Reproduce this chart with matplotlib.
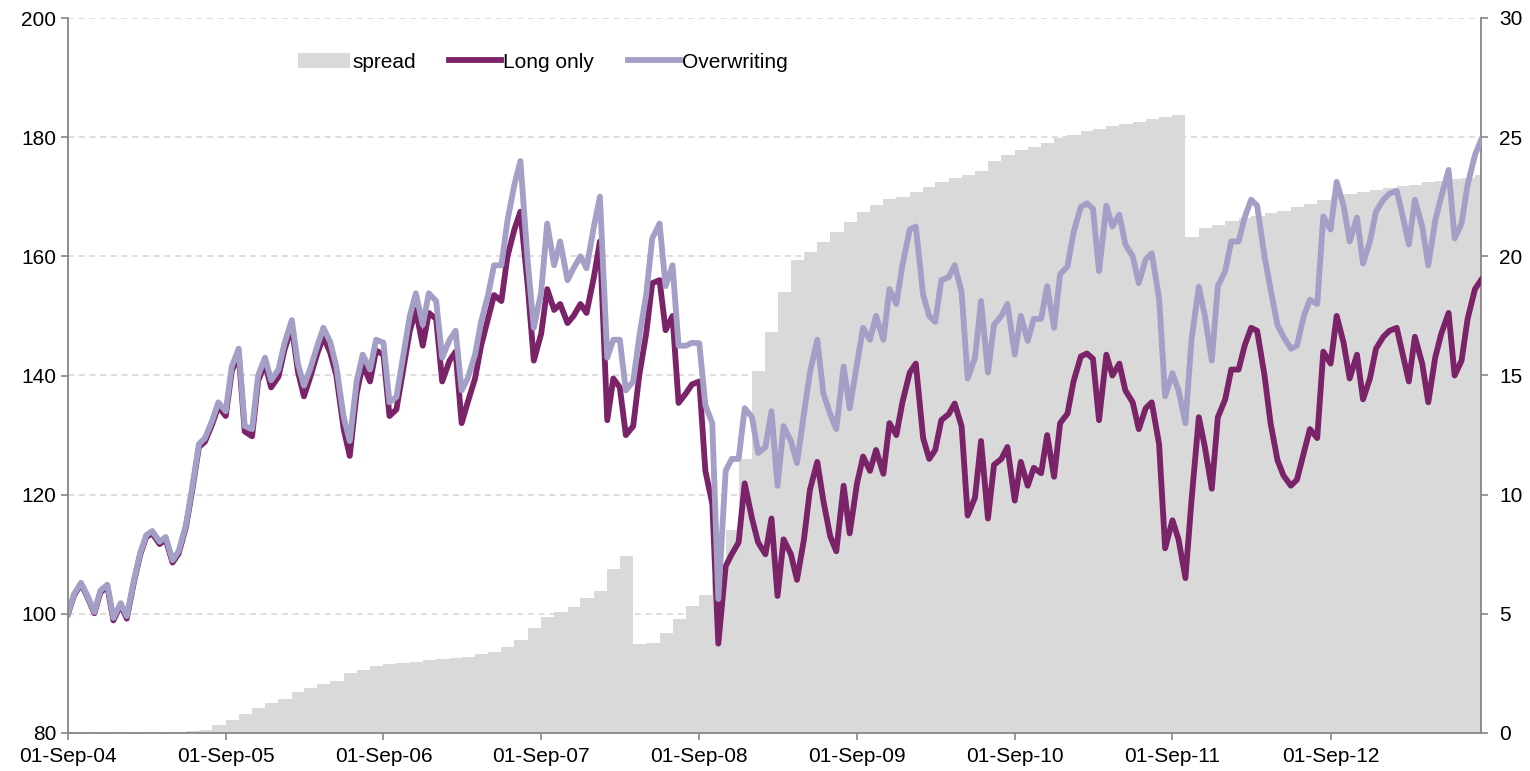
import numpy as np
import pandas as pd
import matplotlib
matplotlib.use("Agg")
import matplotlib.pyplot as plt
import matplotlib.dates as mdates

plt.rcParams['font.family'] = ['Liberation Sans', 'DejaVu Sans']

# semi-monthly observations (1st and 15th), Sep-04 .. Aug-13
dates = pd.date_range("2004-09-01", periods=216, freq="SMS")

long_only = [
    100.0, 103.1, 105.0, 103.0, 100.1, 103.6, 104.6, 98.9, 101.5, 99.2, 105.5, 109.9,
    112.9, 113.5, 111.7, 112.5, 108.6, 110.1, 114.6, 120.5, 128.0, 128.9, 131.9, 134.8,
    133.2, 140.7, 143.6, 130.6, 129.8, 139.1, 142.0, 138.0, 139.8, 144.3, 148.2, 140.7,
    136.5, 139.6, 143.7, 146.5, 143.8, 140.0, 131.0, 126.5, 137.0, 141.8, 139.0, 144.2,
    143.5, 133.2, 134.3, 140.3, 147.5, 151.0, 145.0, 150.5, 149.5, 139.0, 142.5, 144.0,
    132.0, 135.5, 139.5, 145.0, 149.5, 153.5, 152.5, 160.0, 164.5, 167.5, 155.0, 142.5,
    147.0, 154.5, 151.0, 152.0, 148.8, 150.0, 152.0, 150.5, 156.5, 162.5, 132.5, 139.5,
    138.0, 130.0, 131.5, 140.0, 147.0, 155.5, 156.0, 147.6, 150.0, 135.4, 137.0, 138.5,
    139.0, 124.0, 118.5, 95.0, 108.0, 110.0, 112.0, 121.9, 116.0, 112.0, 110.0, 116.0,
    103.0, 112.5, 110.0, 105.7, 112.4, 120.8, 125.5, 119.0, 113.0, 110.5, 121.5, 113.5,
    121.9, 126.4, 124.0, 127.5, 123.5, 132.0, 130.0, 135.5, 140.5, 142.0, 129.5, 126.0,
    127.5, 132.5, 133.5, 135.3, 131.5, 116.5, 119.5, 129.0, 116.0, 125.0, 126.0, 128.0,
    119.0, 125.5, 121.5, 124.5, 123.6, 130.0, 123.0, 132.0, 133.6, 139.0, 143.2, 143.7,
    142.8, 132.5, 143.5, 140.0, 142.0, 137.5, 135.5, 131.0, 134.5, 135.5, 128.5, 111.0,
    115.7, 112.5, 106.0, 119.0, 133.0, 128.0, 121.0, 133.0, 136.0, 141.0, 141.0, 145.0,
    148.0, 147.5, 140.0, 132.0, 125.8, 123.2, 121.5, 122.5, 127.0, 131.0, 129.5, 144.0,
    142.0, 150.0, 145.5, 139.5, 143.5, 136.0, 139.5, 144.5, 146.5, 147.5, 148.0, 143.5,
    139.0, 146.5, 142.0, 135.5, 143.0, 147.0, 150.5, 140.0, 142.5, 149.5, 154.5, 156.0,
]

overwriting = [
    100.1, 103.3, 105.2, 103.2, 100.3, 103.9, 104.9, 99.3, 101.8, 99.6, 105.8, 110.2,
    113.2, 113.9, 112.1, 112.9, 109.0, 110.5, 115.0, 121.0, 128.5, 129.5, 132.5, 135.5,
    134.0, 141.5, 144.5, 131.5, 131.0, 140.0, 143.0, 139.2, 141.0, 145.4, 149.3, 142.0,
    138.3, 141.0, 145.0, 148.0, 145.6, 141.5, 133.0, 129.0, 139.0, 143.5, 141.0, 146.0,
    145.5, 135.5, 136.4, 142.5, 150.0, 153.8, 148.5, 153.8, 152.5, 143.0, 146.0, 147.5,
    137.5, 139.5, 143.5, 149.0, 153.5, 158.5, 158.5, 166.0, 172.0, 176.0, 159.0, 148.0,
    154.0, 165.5, 158.5, 162.5, 156.0, 158.0, 160.0, 158.0, 165.0, 170.0, 143.0, 146.0,
    146.0, 137.5, 139.0, 146.5, 153.5, 163.0, 165.5, 155.0, 158.5, 145.0, 145.0, 145.5,
    145.4, 135.0, 132.0, 102.5, 124.0, 126.0, 126.0, 134.5, 133.0, 127.0, 128.0, 134.0,
    121.5, 131.5, 129.0, 125.3, 133.5, 140.5, 146.0, 137.0, 133.5, 131.0, 141.5, 134.5,
    142.0, 148.0, 146.0, 150.0, 146.0, 154.5, 152.0, 158.5, 164.5, 165.0, 153.5, 150.0,
    149.0, 156.0, 156.5, 158.5, 154.0, 139.5, 143.0, 152.5, 140.5, 148.5, 150.0, 152.0,
    143.5, 150.0, 145.8, 149.5, 149.5, 155.0, 148.0, 157.0, 158.3, 164.0, 168.3, 168.9,
    168.0, 157.5, 168.5, 165.0, 167.0, 162.0, 160.0, 155.5, 159.5, 160.5, 153.0, 136.5,
    140.4, 137.5, 132.0, 146.0, 154.9, 150.0, 142.5, 155.0, 157.5, 162.5, 162.5, 166.5,
    169.5, 168.5, 160.0, 154.5, 148.5, 146.5, 144.5, 145.0, 150.0, 152.7, 152.0, 166.7,
    164.5, 172.5, 168.5, 162.5, 166.5, 158.8, 162.5, 167.5, 169.5, 170.5, 171.0, 166.7,
    162.0, 169.5, 165.0, 158.5, 166.0, 170.0, 174.5, 163.0, 165.5, 172.0, 177.0, 179.5,
]

# monthly spread (right axis)
spread_dates = pd.date_range("2004-09-01", periods=108, freq="MS")
spread = [
    0, 0, 0, 0, 0, 0, 0, 0, 0.05, 0.08, 0.12, 0.35,
    0.55, 0.8, 1.05, 1.25, 1.43, 1.7, 1.9, 2.05, 2.2, 2.5, 2.65, 2.8,
    2.9, 2.95, 3.0, 3.05, 3.1, 3.15, 3.2, 3.3, 3.4, 3.6, 3.9, 4.4,
    4.87, 5.08, 5.29, 5.66, 5.96, 6.88, 7.43, 3.73, 3.78, 4.2, 4.78, 5.33,
    5.79, 6.5, 8.5, 11.5, 15.2, 16.84, 18.5, 19.85, 20.2, 20.6, 21.04, 21.46,
    21.88, 22.16, 22.4, 22.5, 22.7, 22.9, 23.1, 23.3, 23.4, 23.6, 24.0, 24.25,
    24.45, 24.6, 24.75, 24.95, 25.1, 25.25, 25.35, 25.45, 25.55, 25.65, 25.75, 25.85,
    25.95, 20.8, 21.2, 21.3, 21.5, 21.6, 21.7, 21.8, 21.9, 22.05, 22.2, 22.35,
    22.5, 22.6, 22.7, 22.8, 22.87, 22.95, 23.0, 23.1, 23.15, 23.25, 23.3, 23.4,
]

axis_grey = '#868686'
fs = 15

fig = plt.figure(figsize=(15.3, 7.71), dpi=100)
ax = fig.add_axes([68 / 1530, 38 / 771, 1413 / 1530, 715 / 771])
ax2 = ax.twinx()

# spread as stepped area on the right axis, held to the end of the series
sx = list(spread_dates) + [dates[-1]]
sy = spread + [spread[-1]]
ax2.fill_between(sx, sy, step='post', color='#D9D9D9', lw=0, zorder=1, label='spread')
ax2.set_ylim(0, 30)
ax2.set_yticks(np.arange(0, 31, 5))
ax2.yaxis.grid(True, color='#D4D4D4', linestyle=(0, (4, 3)), lw=1.1)
ax2.set_axisbelow(True)

# index lines on top
ax.set_zorder(ax2.get_zorder() + 1)
ax.patch.set_visible(False)
ax.plot(dates, long_only, color='#7A2369', lw=4.2, label='Long only', solid_joinstyle='round')
ax.plot(dates, overwriting, color='#A39FC6', lw=4.2, label='Overwriting', solid_joinstyle='round')

ax.set_ylim(80, 200)
ax.set_yticks(np.arange(80, 201, 20))
ax.set_xlim(dates[0], dates[-1])
ax.xaxis.set_major_locator(mdates.YearLocator(1, month=9, day=1))
ax.xaxis.set_major_formatter(mdates.DateFormatter('%d-%b-%y'))

for a in (ax, ax2):
    a.spines['top'].set_visible(False)
    for s in ('left', 'right', 'bottom'):
        a.spines[s].set_color(axis_grey)
        a.spines[s].set_linewidth(1.3)
ax.spines['right'].set_visible(False)
ax2.spines['left'].set_visible(False)
ax2.spines['bottom'].set_visible(False)

ax.tick_params(axis='both', direction='out', length=5, width=1.2, color=axis_grey,
               labelsize=fs, labelcolor='black')
ax.tick_params(axis='x', pad=5)
ax2.tick_params(axis='y', direction='out', length=5, width=1.2, color=axis_grey,
                labelsize=fs, labelcolor='black', pad=8)

h2, l2 = ax2.get_legend_handles_labels()
h1, l1 = ax.get_legend_handles_labels()
fig.legend(h2 + h1, l2 + l1, loc='center left', bbox_to_anchor=(298 / 1530, 1 - 62 / 771),
           ncol=3, frameon=False, fontsize=fs, handlelength=2.5, handleheight=0.75,
           handletextpad=0.1, columnspacing=1.6, borderpad=0, borderaxespad=0)

fig.savefig('out.png', dpi=100)
